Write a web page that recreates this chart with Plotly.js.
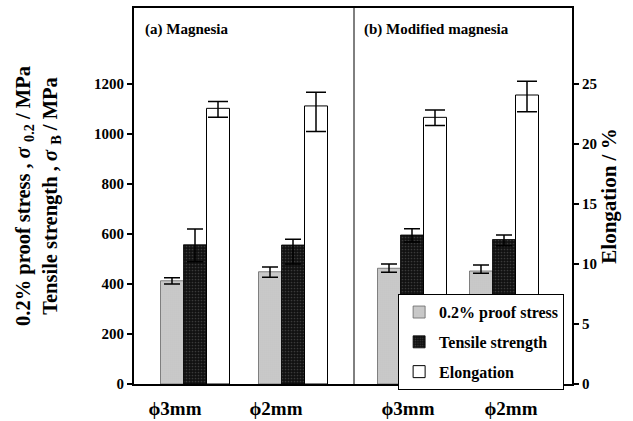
<!DOCTYPE html>
<html>
<head>
<meta charset="utf-8">
<script src="https://cdn.plot.ly/plotly-3.0.1.min.js"></script>
<style>html,body{margin:0;padding:0;background:#fff}#chart{width:633px;height:421px}</style>
</head>
<body>
<div id="chart"></div>
<script>
// ---- data ----
const categories = ["\u03d53mm", "\u03d52mm", "\u03d53mm", "\u03d52mm"];
const panels = ["(a) Magnesia", "(b) Modified magnesia"];
const seriesNames = ["0.2% proof stress", "Tensile strength", "Elongation"];
const proofStress = [413, 449, 463, 452];
const proofErrPlus = [12, 19, 17, 24];
const proofErrMinus = [13, 22, 16, 9];
const tensileStrength = [557, 556, 596, 578];
const tensileErrPlus = [63, 23, 25, 18];
const tensileErrMinus = [68, 76, 28, 25];
const elongation = [22.97, 23.17, 22.22, 24.08];
const elongErrPlus = [0.56, 1.13, 0.61, 1.14];
const elongErrMinus = [0.75, 2.14, 0.69, 1.39];
const leftTicks = [0, 200, 400, 600, 800, 1000, 1200];
const rightTicks = [0, 5, 10, 15, 20, 25];

// ---- layout config ----
const groupPos = [0.61, 1.59, 2.78, 3.70];
const labelPos = [0.41, 1.42, 2.74, 3.77];
const dividerX = 2.20;
const barW = 0.23;
const serif = "Liberation Serif, Times New Roman, serif";

function errs(p, m, w) {
  return {type: 'data', symmetric: false, array: p, arrayminus: m,
          color: '#000', thickness: 1.5, width: w};
}

const traces = [
  {type: 'bar', name: seriesNames[0], x: groupPos, y: proofStress,
   width: barW, offset: -1.5 * barW, yaxis: 'y', legendgroup: 'g1',
   marker: {color: '#d2d2d2', line: {color: '#666', width: 0.8},
            pattern: {shape: '.', fgcolor: '#a8a8a8', bgcolor: '#dcdcdc', size: 2, solidity: 0.4}},
   error_y: errs(proofErrPlus, proofErrMinus, 8)},
  {type: 'bar', name: seriesNames[1], x: groupPos, y: tensileStrength,
   width: barW, offset: -0.5 * barW, yaxis: 'y', legendgroup: 'g2',
   marker: {color: '#141414', line: {color: '#000', width: 0.8},
            pattern: {shape: '.', fgcolor: '#3a3a3a', bgcolor: '#111111', size: 3, solidity: 0.25}},
   error_y: errs(tensileErrPlus, tensileErrMinus, 8)},
  {type: 'bar', name: seriesNames[2], x: groupPos, y: elongation,
   width: barW, offset: 0.5 * barW, yaxis: 'y2', legendgroup: 'g3',
   marker: {color: '#ffffff', line: {color: '#000', width: 1}},
   error_y: errs(elongErrPlus, elongErrMinus, 10)}
];

const layout = {
  width: 633, height: 421,
  margin: {l: 134, r: 61, t: 8, b: 37},
  paper_bgcolor: '#fff', plot_bgcolor: '#fff',
  font: {family: serif, color: '#000', size: 14, weight: 'bold'},
  barmode: 'overlay',
  showlegend: true,
  legend: {x: 0.603, y: 0.239, xanchor: 'left', yanchor: 'top',
           bgcolor: '#fff', bordercolor: '#000', borderwidth: 1,
           font: {family: serif, size: 16, weight: 'bold'},
           traceorder: 'grouped', tracegroupgap: 6},
  xaxis: {range: [0, 4.38], showgrid: false, zeroline: false,
          showline: true, linewidth: 2, linecolor: '#000', mirror: true,
          ticks: '', tickvals: labelPos, ticktext: categories, ticklabelstandoff: 6,
          tickfont: {family: serif, size: 19, weight: 'bold'}},
  yaxis: {range: [0, 1504], showgrid: false, zeroline: false,
          showline: true, linewidth: 2, linecolor: '#000',
          ticks: 'outside', ticklen: 5, tickwidth: 2, tickcolor: '#000',
          tickvals: leftTicks, ticktext: leftTicks.map(String),
          tickfont: {family: serif, size: 15, weight: 'bold'},
          title: {text: "0.2% proof stress , <i>\u03c3</i> <sub>0.2</sub> / MPa<br>Tensile strength , <i>\u03c3</i> <sub>B</sub> / MPa",
                  font: {family: serif, size: 20.5, weight: 'bold'}, standoff: 31}},
  yaxis2: {range: [0, 31.33], overlaying: 'y', side: 'right',
           showgrid: false, zeroline: false,
           showline: true, linewidth: 2, linecolor: '#000',
           ticks: 'outside', ticklen: 5, tickwidth: 2, tickcolor: '#000',
           tickvals: rightTicks, ticktext: rightTicks.map(String),
           tickfont: {family: serif, size: 15, weight: 'bold'},
           title: {text: "Elongation / %", font: {family: serif, size: 21, weight: 'bold'}, standoff: 5}},
  shapes: [{type: 'line', xref: 'x', yref: 'paper', x0: dividerX, x1: dividerX, y0: 0, y1: 1,
            line: {color: '#000', width: 1}}],
  annotations: [
    {text: panels[0], xref: 'paper', yref: 'paper', x: 0.02, y: 0.944, xanchor: 'left', yanchor: 'middle',
     showarrow: false, font: {family: serif, size: 15, weight: 'bold'}},
    {text: panels[1], xref: 'paper', yref: 'paper', x: 0.52, y: 0.944, xanchor: 'left', yanchor: 'middle',
     showarrow: false, font: {family: serif, size: 15, weight: 'bold'}}
  ]
};

Plotly.newPlot('chart', traces, layout, {displayModeBar: false, staticPlot: true});
</script>
</body>
</html>
